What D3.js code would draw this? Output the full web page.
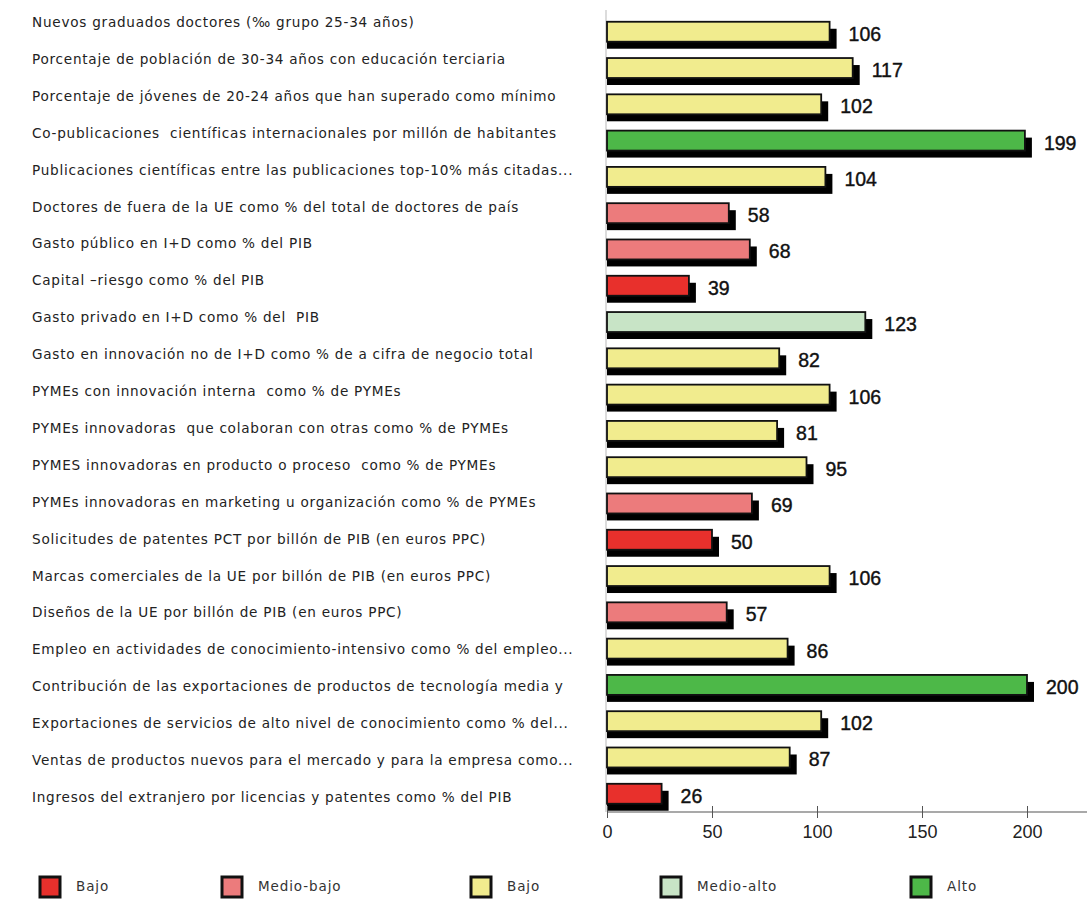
<!DOCTYPE html>
<html>
<head>
<meta charset="utf-8">
<script src="https://cdn.jsdelivr.net/npm/d3@7"></script>
<style>
  html, body { margin: 0; padding: 0; background: #ffffff; }
  svg { display: block; }
</style>
</head>
<body>
<svg id="chart" width="1087" height="900"></svg>
<script>
// Indicadores de innovación (índice, UE = 100)
const categories = [
  "Nuevos graduados doctores (‰ grupo 25-34 años)",
  "Porcentaje de población de 30-34 años con educación terciaria",
  "Porcentaje de jóvenes de 20-24 años que han superado como mínimo",
  "Co-publicaciones  científicas internacionales por millón de habitantes",
  "Publicaciones científicas entre las publicaciones top-10% más citadas...",
  "Doctores de fuera de la UE como % del total de doctores de país",
  "Gasto público en I+D como % del PIB",
  "Capital –riesgo como % del PIB",
  "Gasto privado en I+D como % del  PIB",
  "Gasto en innovación no de I+D como % de a cifra de negocio total",
  "PYMEs con innovación interna  como % de PYMEs",
  "PYMEs innovadoras  que colaboran con otras como % de PYMEs",
  "PYMES innovadoras en producto o proceso  como % de PYMEs",
  "PYMEs innovadoras en marketing u organización como % de PYMEs",
  "Solicitudes de patentes PCT por billón de PIB (en euros PPC)",
  "Marcas comerciales de la UE por billón de PIB (en euros PPC)",
  "Diseños de la UE por billón de PIB (en euros PPC)",
  "Empleo en actividades de conocimiento-intensivo como % del empleo...",
  "Contribución de las exportaciones de productos de tecnología media y",
  "Exportaciones de servicios de alto nivel de conocimiento como % del...",
  "Ventas de productos nuevos para el mercado y para la empresa como...",
  "Ingresos del extranjero por licencias y patentes como % del PIB"
];
const values = [106, 117, 102, 199, 104, 58, 68, 39, 123, 82, 106, 81, 95, 69, 50, 106, 57, 86, 200, 102, 87, 26];
const levels = ["b2", "b2", "b2", "alto", "b2", "mb", "mb", "bajo", "ma", "b2", "b2", "b2", "b2", "mb", "bajo", "b2", "mb", "b2", "alto", "b2", "b2", "bajo"];

const legendKeys = ["bajo", "mb", "b2", "ma", "alto"];
const legendLabels = ["Bajo", "Medio-bajo", "Bajo", "Medio-alto", "Alto"];
const legendColors = ["#e8302c", "#ec7b7c", "#f1ec8e", "#c8e4c6", "#4db848"];
const xTicks = [0, 50, 100, 150, 200];

const data = categories.map((c, i) => ({ cat: c, value: values[i], level: levels[i] }));

const svg = d3.select("#chart");
const color = d3.scaleOrdinal().domain(legendKeys).range(legendColors);

const x = d3.scaleLinear().domain([0, 200]).range([607, 1027]);
const y = d3.scaleBand().domain(categories).range([14.5, 811]).paddingInner(0.45).paddingOuter(0.2);
const yLabel = d3.scalePoint().domain(categories).range([22, 797]);

const axisY = 812;
const shadowOff = 7;

// left axis line
svg.append("line")
  .attr("x1", 606).attr("x2", 606)
  .attr("y1", 10).attr("y2", axisY)
  .attr("stroke", "#b9b9b9").attr("stroke-width", 1);

// category labels
svg.append("g")
  .selectAll("text")
  .data(data)
  .join("text")
  .attr("x", 32)
  .attr("y", d => yLabel(d.cat))
  .attr("dominant-baseline", "central")
  .attr("font-family", "DejaVu Sans, sans-serif")
  .attr("font-size", 13.6)
  .attr("letter-spacing", 0.75)
  .attr("fill", "#222")
  .style("white-space", "pre")
  .text(d => d.cat);

const bars = svg.append("g").selectAll("g").data(data).join("g");

// drop shadow
bars.append("rect")
  .attr("x", x(0))
  .attr("y", d => y(d.cat) + shadowOff)
  .attr("width", d => x(d.value) - x(0) + shadowOff)
  .attr("height", y.bandwidth())
  .attr("fill", "#000");

// bar
bars.append("rect")
  .attr("x", x(0))
  .attr("y", d => y(d.cat))
  .attr("width", d => x(d.value) - x(0))
  .attr("height", y.bandwidth())
  .attr("fill", d => color(d.level))
  .attr("stroke", "#111")
  .attr("stroke-width", 1.8);

// value labels
bars.append("text")
  .attr("x", d => x(d.value) + 19)
  .attr("y", d => y(d.cat) + y.bandwidth() / 2 + 2)
  .attr("dominant-baseline", "central")
  .attr("font-family", "Liberation Sans, Arial, sans-serif")
  .attr("font-size", 19.5)
  .attr("fill", "#111")
  .attr("stroke", "#111")
  .attr("stroke-width", 0.4)
  .text(d => d.value);

// x axis
const xAxis = d3.axisBottom(x).tickValues(xTicks).tickSize(6).tickSizeOuter(0);
const gx = svg.append("g").attr("transform", `translate(0,${axisY})`).call(xAxis);
gx.select(".domain").remove();
gx.append("line")
  .attr("x1", x(0)).attr("x2", 1087)
  .attr("stroke", "#555").attr("stroke-width", 1.2);
gx.selectAll(".tick line").attr("y1", -6).attr("y2", 6).attr("stroke", "#555");
gx.selectAll(".tick text")
  .attr("y", 13)
  .attr("font-family", "Liberation Sans, Arial, sans-serif")
  .attr("font-size", 18)
  .attr("fill", "#222");

// legend
const legendX = [40, 222, 471, 661, 911];
const lg = svg.append("g").selectAll("g").data(legendKeys).join("g")
  .attr("transform", (d, i) => `translate(${legendX[i]},877)`);
lg.append("rect")
  .attr("width", 20).attr("height", 20)
  .attr("fill", d => color(d))
  .attr("stroke", "#111").attr("stroke-width", 3);
lg.append("text")
  .attr("x", 36).attr("y", 9)
  .attr("dominant-baseline", "central")
  .attr("font-family", "DejaVu Sans, sans-serif")
  .attr("font-size", 13.5)
  .attr("letter-spacing", 0.9)
  .attr("fill", "#333")
  .text((d, i) => legendLabels[i]);
</script>
</body>
</html>
